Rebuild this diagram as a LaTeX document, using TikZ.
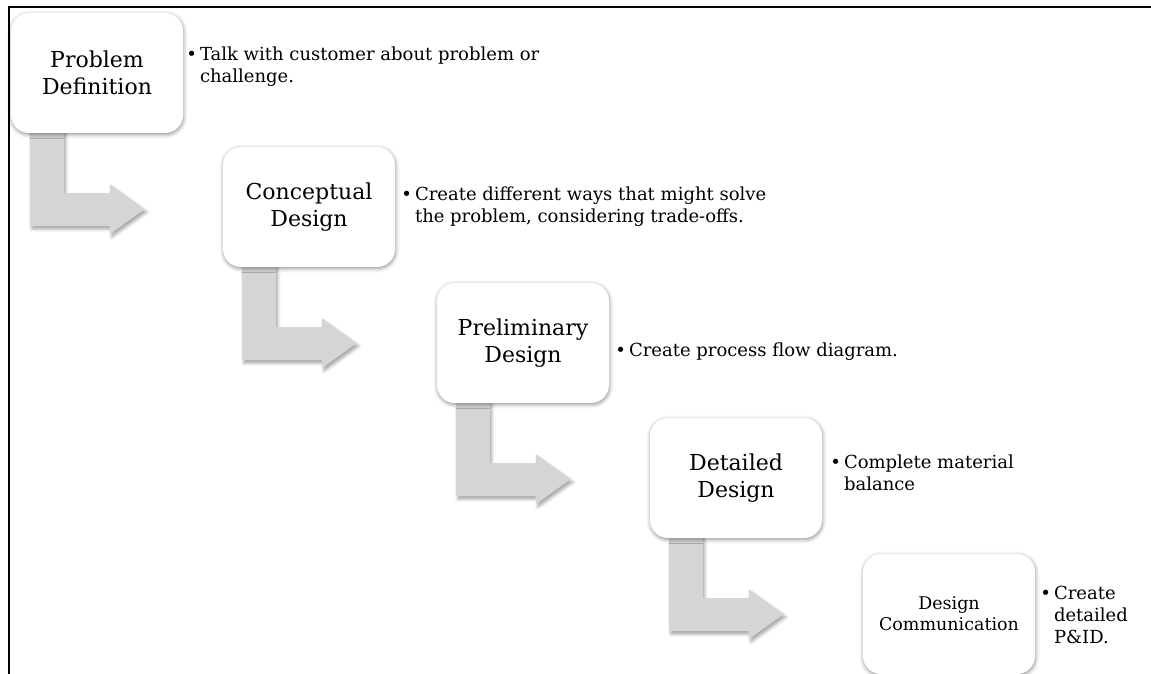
\documentclass[tikz,border=0pt]{standalone}
\usepackage{fontspec}
\setmainfont{DejaVu Serif}
\usetikzlibrary{calc,shadows.blur}
\pgfdeclarelayer{bg}
\pgfsetlayers{bg,main}
\definecolor{arrowgray}{RGB}{213,213,213}
\tikzset{
  stage/.style={draw=none, fill=white, rounded corners=18pt,
    minimum width=172pt, minimum height=120pt, inner sep=0pt,
    align=center, font=\fontsize{22}{27}\selectfont,
    blur shadow={shadow xshift=0.5pt, shadow yshift=-1.5pt,
      shadow blur radius=4pt, shadow opacity=45}},
  smallstage/.style={stage, font=\fontsize{17.5}{21}\selectfont},
  note/.style={anchor=west, align=left, inner sep=0pt,
    font=\fontsize{18}{22}\selectfont},
  bendarrow/.style={fill=arrowgray, draw=none,
    blur shadow={shadow xshift=2pt, shadow yshift=-3pt,
      shadow blur radius=3pt, shadow opacity=35}},
  frameline/.style={line width=1.5pt, black}
}
\newcommand{\bul}{\textbullet\,}
\newcommand{\hang}{\hphantom{\textbullet\,}}
\begin{document}
\begin{tikzpicture}[x=1pt,y=-1pt]
\useasboundingbox (0,0) rectangle (1151,674);
\coordinate (fa) at (9,674);
\coordinate (fb) at (9,7);
\coordinate (fc) at (1151,7);
\draw[frameline] (fa) -- (fb) -- (fc);

\node[stage] (b1) at (97,73) {Problem\\Definition};
\node[stage] (b2) at (309,207) {Conceptual\\Design};
\node[stage] (b3) at (523,343) {Preliminary\\Design};
\node[stage] (b4) at (736,478) {Detailed\\Design};
\node[smallstage] (b5) at (949,614) {Design\\Communication};

\node[note] (n1) at ($(b1.east)+(3,-6)$) {\bul Talk with customer about problem or\\\hang challenge.};
\node[note] (n2) at ($(b2.east)+(6,0)$) {\bul Create different ways that might solve\\\hang the problem, considering trade-offs.};
\node[note] (n3) at ($(b3.east)+(6,9)$) {\bul Create process flow diagram.};
\node[note] (n4) at ($(b4.east)+(8,-5)$) {\bul Complete material\\\hang balance};
\node[note] (n5) at ($(b5.east)+(5,1)$) {\bul Create\\\hang detailed\\\hang P\&ID.};

\begin{pgfonlayer}{bg}
\foreach \b in {b1,b2,b3,b4}{
  \fill[bendarrow] ($(\b.south west)+(19,-5)$) -- ++(0,98) -- ++(80,0)
    -- ++(0,8) -- ++(35,-25) -- ++(-35,-25) -- ++(0,9) -- ++(-46,0)
    -- ++(0,-65) -- cycle;
}
\end{pgfonlayer}
\end{tikzpicture}
\end{document}
